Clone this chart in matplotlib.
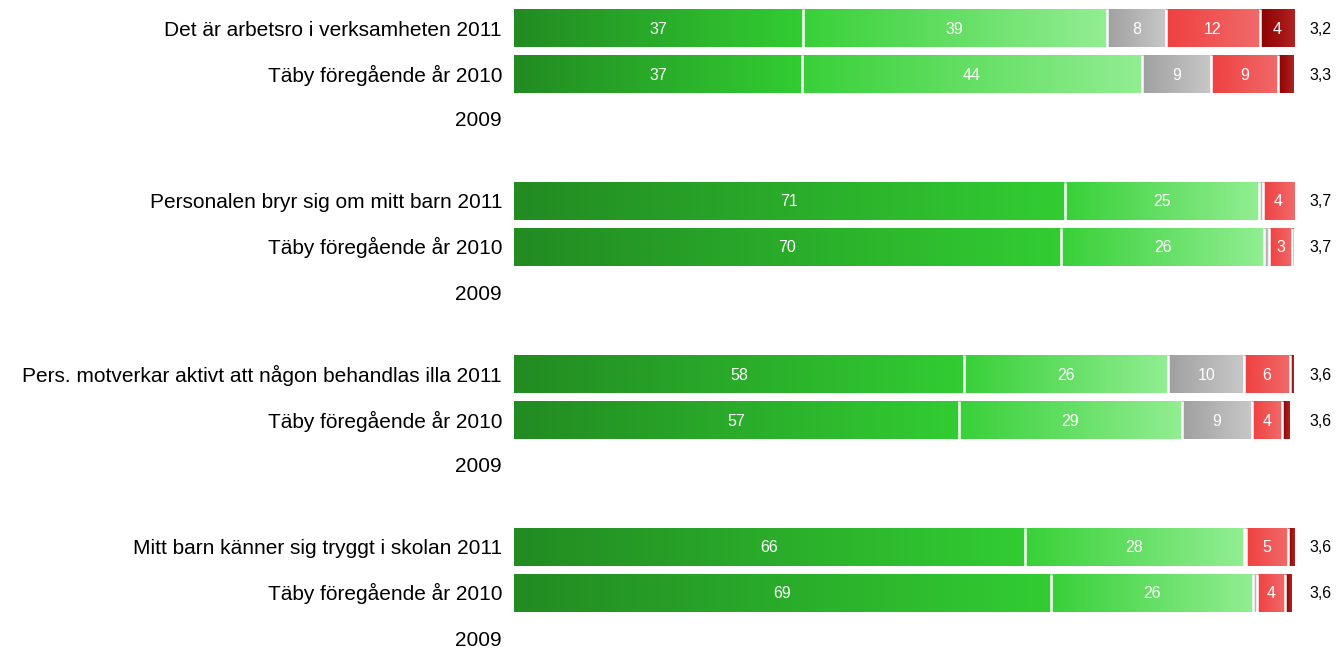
import numpy as np
import matplotlib
matplotlib.use('Agg')
import matplotlib.pyplot as plt
from matplotlib.colors import LinearSegmentedColormap

plt.rcParams['font.family'] = ['Liberation Sans', 'DejaVu Sans']

#------------------------------------------------------------------------------
# DATA
#------------------------------------------------------------------------------

row_labels = [
    'Det är arbetsro i verksamheten 2011', 'Täby föregående år 2010', '2009',
    'Personalen bryr sig om mitt barn 2011', 'Täby föregående år 2010', '2009',
    'Pers. motverkar aktivt att någon behandlas illa 2011', 'Täby föregående år 2010', '2009',
    'Mitt barn känner sig tryggt i skolan 2011', 'Täby föregående år 2010', '2009',
]

# percentages per answer category (None = no data for that year)
stammer_helt   = [37.0, 36.9, None, 70.6, 70.1, None, 57.7, 57.0, None, 65.5, 68.8, None]
stammer_ganska = [39.0, 43.6, None, 24.9, 26.1, None, 26.2, 28.6, None, 28.1, 26.0, None]
vet_ej         = [7.6, 8.9, None, 0.5, 0.6, None, 9.7, 9.0, None, 0.3, 0.5, None]
stammer_daligt = [12.0, 8.6, None, 4.0, 3.0, None, 5.9, 3.8, None, 5.3, 3.6, None]
stammer_inte   = [4.4, 2.0, None, 0.0, 0.2, None, 0.5, 1.0, None, 0.8, 0.8, None]

mean_values = ['3,2', '3,3', '', '3,7', '3,7', '', '3,6', '3,6', '', '3,6', '3,6', '']

series = [stammer_helt, stammer_ganska, vet_ej, stammer_daligt, stammer_inte]

#------------------------------------------------------------------------------
# SETTINGS
#------------------------------------------------------------------------------

gradients = [
    ('#228b22', '#32cd32'),
    ('#38d038', '#92ee92'),
    ('#a0a0a0', '#c8c8c8'),
    ('#f04040', '#f06a6a'),
    ('#8b0000', '#b22222'),
]

W, H = 1336, 648
fig = plt.figure(figsize=(W/100, H/100), dpi=100)
x0, x1 = 514, 1294
ax = fig.add_axes([x0/W, 0, (x1-x0)/W, 1])
ax.axis('off')

bar_h = 38
grad = np.linspace(0, 1, 256).reshape(1, -1)

#------------------------------------------------------------------------------
# PLOT
#------------------------------------------------------------------------------

for i, label in enumerate(row_labels):
    g, r = divmod(i, 3)
    yc = 28 + g*173.0 + r*46
    yoff = 7.5 if r < 2 else 6.5
    fig.text((x0-12)/W, 1 - (yc+yoff)/H, label, ha='right', va='baseline', fontsize=15)
    if series[0][i] is None:
        continue
    left = 0.0
    for k, s in enumerate(series):
        w = s[i]
        if w > 0:
            cmap = LinearSegmentedColormap.from_list('g%d' % k, gradients[k])
            ax.imshow(grad, extent=[left, left+w, yc+bar_h/2, yc-bar_h/2],
                      cmap=cmap, aspect='auto', interpolation='bilinear', zorder=1)
            if k > 0:
                ax.vlines(left, yc-bar_h/2, yc+bar_h/2, color='white', lw=1.8, zorder=2)
            if round(w) >= 3:
                ax.text(left + w/2, yc+5.5, '%d' % round(w), ha='center', va='baseline',
                        color='white', fontsize=11.5, zorder=3)
        left += w
    fig.text(1309/W, 1 - (yc+5.5)/H, mean_values[i], ha='left', va='baseline', fontsize=11.5)

ax.set_xlim(0, 100)
ax.set_ylim(H, 0)
plt.savefig('out.png', dpi=100)
